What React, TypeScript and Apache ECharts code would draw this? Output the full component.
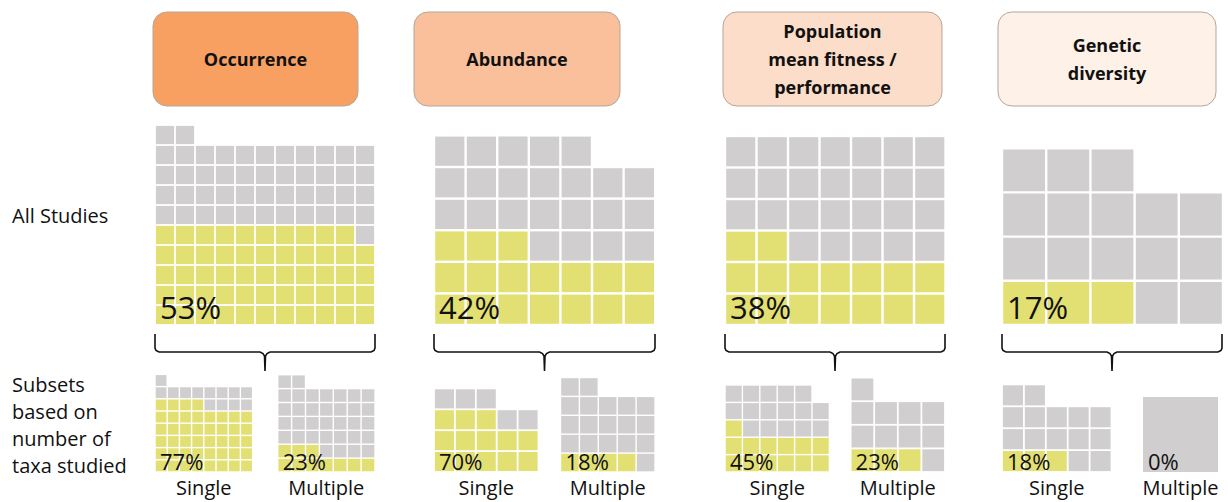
import React, { useEffect, useRef } from "react";
import * as echarts from "echarts";

// ---------- data ----------
const categories = ["Occurrence", "Abundance", "Population\nmean fitness /\nperformance", "Genetic\ndiversity"];
const rowLabels = ["All Studies", "Subsets\nbased on\nnumber of\ntaxa studied"];
const subsetLabels = ["Single", "Multiple"];

const allStudiesPct = [53, 42, 38, 17];
const allStudiesCells = [101, 40, 42, 18];
const allStudiesYellow = [54, 17, 16, 3];
const allStudiesCols = [11, 7, 7, 5];

const singlePct = [77, 70, 45, 18];
const singleCells = [57, 18, 29, 17];
const singleYellow = [44, 13, 13, 3];
const singleCols = [8, 5, 6, 5];

const multiplePct = [23, 18, 23, 0];
const multipleCells = [44, 22, 13, 1];
const multipleYellow = [10, 4, 3, 0];
const multipleCols = [7, 5, 4, 1];

// ---------- layout / style ----------
const FONT = "'Open Sans', 'Noto Sans', sans-serif";
const YELLOW = "#E3E073";
const GRAY = "#D0CECE";
const panelLeft = [155, 434, 725, 1002];
const panelRight = [375, 655, 945, 1222];
const multipleRight = [375, 655, 945, 1218];
const bigCell = [20, 31.6, 31.5, 44.2];
const singleCell = [12.2, 20.9, 17.4, 21.9];
const multipleCell = [13.9, 18.9, 23.6, 75];
const bigBottom = 325;
const smallBottom = 472;
const boxLeft = [153, 414, 723, 998];
const boxRight = [358, 620, 942, 1216];
const boxFill = ["#F8A062", "#F9C09B", "#FCDDC9", "#FEF1E7"];

type Waffle = { left: number; bottom: number; cell: number; cols: number; total: number; yellow: number; pct: number; big: boolean };

function buildCells(total: number, yellow: number, cols: number) {
  const out: number[][] = [];
  for (let i = 0; i < total; i++) out.push([i % cols, Math.floor(i / cols), i < yellow ? 1 : 0]);
  return out;
}

export default function App() {
  const ref = useRef<HTMLDivElement>(null);
  useEffect(() => {
    if (!ref.current) return;
    const chart = echarts.init(ref.current, undefined, { renderer: "svg" });

    const waffles: Waffle[] = [];
    for (let k = 0; k < 4; k++) {
      waffles.push({ left: panelLeft[k], bottom: bigBottom, cell: bigCell[k], cols: allStudiesCols[k], total: allStudiesCells[k], yellow: allStudiesYellow[k], pct: allStudiesPct[k], big: true });
      waffles.push({ left: panelLeft[k], bottom: smallBottom, cell: singleCell[k], cols: singleCols[k], total: singleCells[k], yellow: singleYellow[k], pct: singlePct[k], big: false });
      waffles.push({ left: multipleRight[k] - multipleCols[k] * multipleCell[k], bottom: smallBottom, cell: multipleCell[k], cols: multipleCols[k], total: multipleCells[k], yellow: multipleYellow[k], pct: multiplePct[k], big: false });
    }

    const grids: any[] = [];
    const xAxes: any[] = [];
    const yAxes: any[] = [];
    const series: any[] = [];
    const graphics: any[] = [];

    waffles.forEach((w, i) => {
      const rows = Math.ceil(w.total / w.cols);
      const width = w.cols * w.cell;
      const height = rows * w.cell;
      grids.push({ left: w.left, top: w.bottom - height, width, height, containLabel: false });
      xAxes.push({ type: "value", gridIndex: i, min: 0, max: w.cols, show: false });
      yAxes.push({ type: "value", gridIndex: i, min: 0, max: rows, show: false });
      const gap = w.total === 1 ? 0 : w.cell >= 30 ? 2.4 : w.cell >= 19 ? 1.8 : 1.4;
      series.push({
        type: "custom",
        xAxisIndex: i,
        yAxisIndex: i,
        data: buildCells(w.total, w.yellow, w.cols),
        encode: { x: 0, y: 1 },
        silent: true,
        renderItem: (params: any, api: any) => {
          const x = api.value(0);
          const y = api.value(1);
          const yl = api.value(2);
          const p0 = api.coord([x, y + 1]);
          const p1 = api.coord([x + 1, y]);
          return {
            type: "rect",
            shape: { x: p0[0] + gap / 2, y: p0[1] + gap / 2, width: p1[0] - p0[0] - gap, height: p1[1] - p0[1] - gap },
            style: { fill: yl ? YELLOW : GRAY },
          };
        },
      });
      const fs = w.big ? 31 : 22;
      graphics.push({
        type: "text",
        z: 10,
        x: w.left + 5,
        y: w.big ? w.bottom - 18 : w.bottom - 11,
        style: { text: w.pct + "%", fontSize: fs, lineHeight: fs, fontFamily: FONT, fill: "#111", align: "left", verticalAlign: "middle" },
      });
    });

    for (let k = 0; k < 4; k++) {
      // title box
      graphics.push({
        type: "rect",
        shape: { x: boxLeft[k], y: 12, width: boxRight[k] - boxLeft[k], height: 94, r: 14 },
        style: { fill: boxFill[k], stroke: "#B3A69B", lineWidth: 1 },
      });
      graphics.push({
        type: "text",
        x: (boxLeft[k] + boxRight[k]) / 2,
        y: 59,
        style: { text: categories[k], fontSize: 18, fontWeight: "bold", fontFamily: FONT, fill: "#111", align: "center", verticalAlign: "middle", lineHeight: 28 },
      });
      // bracket
      const L = panelLeft[k];
      const R = panelRight[k];
      const C = (L + R) / 2;
      const y0 = 334;
      const y1 = 352;
      const y2 = 371;
      graphics.push({
        type: "polyline",
        shape: {
          points: [
            [L, y0], [L, y1 - 4], [L + 1, y1 - 1.5], [L + 4, y1], [C - 5, y1], [C - 2, y1 + 1.5], [C - 0.5, y1 + 4], [C, y2],
            [C + 0.5, y1 + 4], [C + 2, y1 + 1.5], [C + 5, y1], [R - 4, y1], [R - 1, y1 - 1.5], [R, y1 - 4], [R, y0],
          ],
        },
        style: { stroke: "#111", lineWidth: 1.6, fill: "none" },
      });
      // subset labels
      const sW = singleCols[k] * singleCell[k];
      const mW = multipleCols[k] * multipleCell[k];
      graphics.push({
        type: "text",
        x: panelLeft[k] + sW / 2,
        y: 487.5,
        style: { text: subsetLabels[0], fontSize: 20, lineHeight: 20, fontFamily: FONT, fill: "#111", align: "center", verticalAlign: "middle" },
      });
      graphics.push({
        type: "text",
        x: multipleRight[k] - mW / 2,
        y: 487.5,
        style: { text: subsetLabels[1], fontSize: 20, lineHeight: 20, fontFamily: FONT, fill: "#111", align: "center", verticalAlign: "middle" },
      });
    }

    graphics.push({
      type: "text",
      x: 12,
      y: 215,
      style: { text: rowLabels[0], fontSize: 20, lineHeight: 20, fontFamily: FONT, fill: "#111", align: "left", verticalAlign: "middle" },
    });
    graphics.push({
      type: "text",
      x: 12,
      y: 425,
      style: { text: rowLabels[1], fontSize: 20, fontFamily: FONT, fill: "#111", align: "left", verticalAlign: "middle", lineHeight: 27 },
    });

    chart.setOption({
      animation: false,
      backgroundColor: "#ffffff",
      grid: grids,
      xAxis: xAxes,
      yAxis: yAxes,
      series,
      graphic: graphics,
    });
    return () => chart.dispose();
  }, []);
  return <div ref={ref} style={{ position: "absolute", left: 0, top: 0, width: 1228, height: 502 }} />;
}
